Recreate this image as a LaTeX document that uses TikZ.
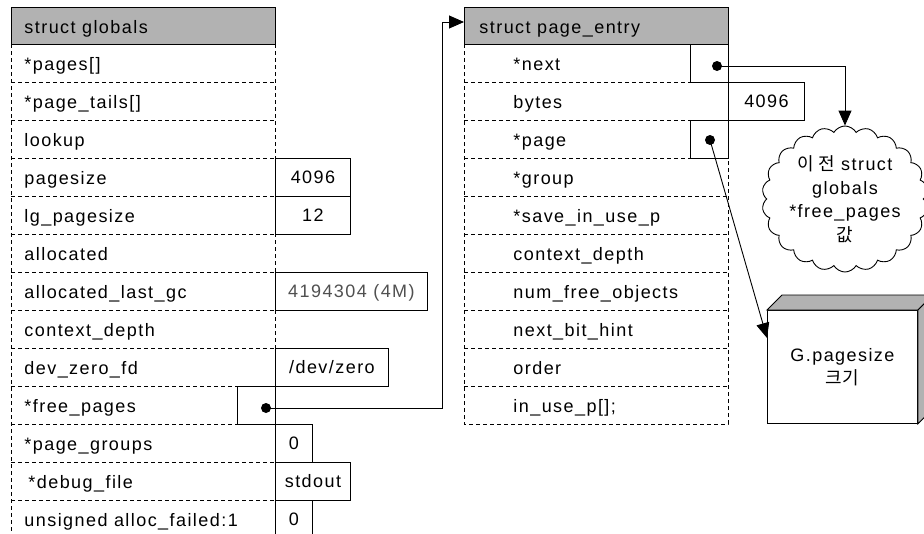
\documentclass[tikz,border=0pt]{standalone}
\usepackage{fontspec}
\setmainfont{Liberation Sans}[LetterSpace=8]
\newfontfamily\kr{Noto Sans CJK KR}
\usetikzlibrary{arrows.meta,shapes.symbols,calc}
\definecolor{hdrgray}{RGB}{178,178,178}
\definecolor{valgray}{RGB}{80,80,80}
\begin{document}
\begin{tikzpicture}[x=1pt,y=-1pt,
  font=\fontsize{18}{23.5}\selectfont,
  line width=0.9pt,
  lbl/.style={anchor=base west, inner sep=0},
  hdr/.style={draw, fill=hdrgray, anchor=north west, minimum width=264, minimum height=37, inner sep=0},
  vbox/.style={draw, fill=white, anchor=north west, minimum height=38, inner sep=0, text height=13, text depth=0},
  pbox/.style={draw, fill=white, anchor=north west, minimum width=38, minimum height=38, inner sep=0},
  ptrdot/.style={circle, fill=black, inner sep=0, minimum size=10},
  tab/.style={dash pattern=on 4pt off 3pt, line width=0.8pt},
  ptr/.style={line width=0.9pt},
  tip/.style={-{Triangle[length=15pt,width=13pt]}}
]
\useasboundingbox (0,0) rectangle (924,533);
\clip (0,0) rectangle (924,533);
\fill[white] (0,0) rectangle (924,533);

% ---------- struct globals ----------
\draw[tab] (11,44) -- (11,540);
\draw[tab] (275,44) -- (275,540);
\foreach \yy in {82,120,158,196,234,272,310,348,386,424,462,500}
  \draw[tab] (11,\yy) -- (275,\yy);
\node[hdr] (gh) at (11,7) {};
\node[lbl] (ght) at (24,33) {struct globals};

\node[lbl] (g1) at (24,70) {*pages[]};
\node[lbl] (g2) at (24,108) {*page\_tails[]};
\node[lbl] (g3) at (24,146) {lookup};
\node[lbl] (g4) at (24,184) {pagesize};
\node[lbl] (g5) at (24,222) {lg\_pagesize};
\node[lbl] (g6) at (24,260) {allocated};
\node[lbl] (g7) at (24,298) {allocated\_last\_gc};
\node[lbl] (g8) at (24,336) {context\_depth};
\node[lbl] (g9) at (24,374) {dev\_zero\_fd};
\node[lbl] (g10) at (24,412) {*free\_pages};
\node[lbl] (g11) at (24,450) {*page\_groups};
\node[lbl] (g12) at (28,488) {*debug\_file};
\node[lbl] (g13) at (24,526) {unsigned alloc\_failed:1};

\node[vbox, minimum width=75] (v4) at (275,158) {4096};
\node[vbox, minimum width=75] (v5) at (275,196) {12};
\node[vbox, minimum width=152, text=valgray] (v7) at (275,272) {4194304 (4M)};
\node[vbox, minimum width=113] (v9) at (275,348) {/dev/zero};
\node[pbox] (p10) at (237,386) {};
\node[vbox, minimum width=37] (v11) at (275,424) {0};
\node[vbox, minimum width=75] (v12) at (275,462) {stdout};
\node[vbox, minimum width=37] (v13) at (275,500) {0};
\node[ptrdot] (fpdot) at (266,408) {};

% ---------- struct page_entry ----------
\draw[tab] (464,44) -- (464,424) -- (728,424) -- (728,44);
\foreach \yy in {82,120,158,196,234,272,310,348,386}
  \draw[tab] (464,\yy) -- (728,\yy);
\node[hdr] (pehead) at (464,7) {};
\node[lbl] (peht) at (479,33) {struct page\_entry};

\node[lbl] (e1) at (513,70) {*next};
\node[lbl] (e2) at (513,108) {bytes};
\node[lbl] (e3) at (513,146) {*page};
\node[lbl] (e4) at (513,184) {*group};
\node[lbl] (e5) at (513,222) {*save\_in\_use\_p};
\node[lbl] (e6) at (513,260) {context\_depth};
\node[lbl] (e7) at (513,298) {num\_free\_objects};
\node[lbl] (e8) at (513,336) {next\_bit\_hint};
\node[lbl] (e9) at (513,374) {order};
\node[lbl] (e10) at (513,412) {in\_use\_p[];};

\node[pbox] (pnext) at (690,44) {};
\node[vbox, minimum width=76] (vbytes) at (728,82) {4096};
\node[pbox] (ppage) at (690,120) {};
\node[ptrdot] (nextdot) at (717,66) {};
\node[ptrdot] (pagedot) at (710,140) {};

% ---------- cloud ----------
\node[cloud, draw, cloud puffs=22, cloud puff arc=120, cloud ignores aspect,
      minimum width=140, minimum height=146, inner sep=0, align=center, fill=white]
  (cl) at (845,199) {{\kr 이 전} struct\\globals\\*free\_pages\\{\kr 값}};

% ---------- 3D box ----------
\node[draw, fill=white, anchor=north west, minimum width=150, minimum height=113,
      inner sep=0, align=center] (gbox) at (767,310) {G.pagesize\\{\kr 크기}};
\draw[fill=hdrgray] (gbox.north west) -- ++(15,-15) -- ($(gbox.north east)+(15,-15)$)
  -- (gbox.north east) -- cycle;
\draw[fill=hdrgray] (gbox.north east) -- ++(15,-15) -- ($(gbox.south east)+(15,-15)$)
  -- (gbox.south east) -- cycle;

% ---------- connectors ----------
\coordinate (bend) at (442,22);
\draw[ptr,tip] (fpdot.center) -| (bend) -- (pehead.west |- bend);
\draw[ptr,tip] (nextdot.center) -| (cl.north);
\draw[ptr,tip] (pagedot.center) -- ($(gbox.north west)+(0,28)$);
\end{tikzpicture}
\end{document}
